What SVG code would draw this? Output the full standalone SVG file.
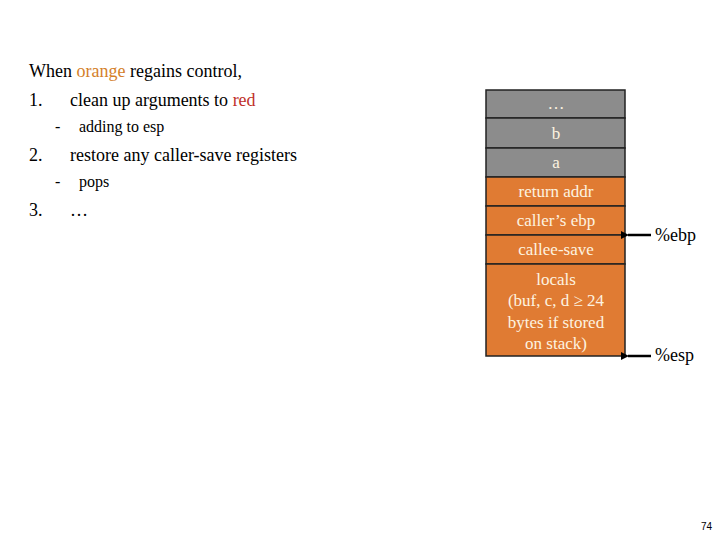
<svg xmlns="http://www.w3.org/2000/svg" width="720" height="540" viewBox="0 0 720 540">
<style>
.t{font-family:"Liberation Serif","DejaVu Serif",serif;font-size:18px;fill:#000}
.s{font-size:16px}
.c{font-family:"Liberation Serif","DejaVu Serif",serif;font-size:17px;fill:#fdf3e0;text-anchor:middle}
.g{fill:#8c8c8c;stroke:#222;stroke-width:1.5}
.o{fill:#e07b33;stroke:#222;stroke-width:1.5}
</style>
<defs><marker id="ah" markerWidth="8" markerHeight="8" refX="1" refY="4" orient="auto" markerUnits="userSpaceOnUse"><path d="M8,0 L0,4 L8,8 z" fill="#000"/></marker></defs>
<rect width="720" height="540" fill="#fff"/>
<g id="text">
<text class="t" x="29" y="77">When <tspan fill="#d4802a">orange</tspan> regains control,</text>
<text class="t" x="29" y="106">1.</text><text class="t" x="70" y="106">clean up arguments to <tspan fill="#c0302a">red</tspan></text>
<text class="t s" x="55" y="132">-</text><text class="t s" x="79" y="132">adding to esp</text>
<text class="t" x="29" y="161">2.</text><text class="t" x="70" y="161">restore any caller-save registers</text>
<text class="t s" x="55" y="187">-</text><text class="t s" x="79" y="187">pops</text>
<text class="t" x="29" y="216">3.</text><text class="t" x="70" y="216">…</text>
</g>
<g id="n-dots"><rect class="g" x="486" y="90" width="139" height="28"/><text class="c" x="556" y="109">…</text></g>
<g id="n-b"><rect class="g" x="486" y="118" width="139" height="30"/><text class="c" x="556" y="139">b</text></g>
<g id="n-a"><rect class="g" x="486" y="148" width="139" height="29"/><text class="c" x="556" y="168">a</text></g>
<g id="n-ret"><rect class="o" x="486" y="177" width="139" height="29"/><text class="c" x="556" y="197">return addr</text></g>
<g id="n-ebp"><rect class="o" x="486" y="206" width="139" height="29"/><text class="c" x="556" y="226">caller’s ebp</text></g>
<g id="n-callee"><rect class="o" x="486" y="235" width="139" height="29"/><text class="c" x="556" y="255">callee-save</text></g>
<g id="n-locals"><rect class="o" x="486" y="264" width="139" height="92"/>
<text class="c" x="556" y="285">locals</text><text class="c" x="556" y="306">(buf, c, d ≥ 24</text><text class="c" x="556" y="328">bytes if stored</text><text class="c" x="556" y="349">on stack)</text></g>
<g id="connectors" stroke="#000" stroke-width="2.5">
<line x1="651" y1="235" x2="628" y2="235" marker-end="url(#ah)"/>
<line x1="651" y1="356" x2="628" y2="356" marker-end="url(#ah)"/>
</g>
<text class="t" x="655" y="241">%ebp</text>
<text class="t" x="655" y="361">%esp</text>
<text x="712" y="530" font-family="Liberation Sans,sans-serif" font-size="10" text-anchor="end">74</text>
</svg>
